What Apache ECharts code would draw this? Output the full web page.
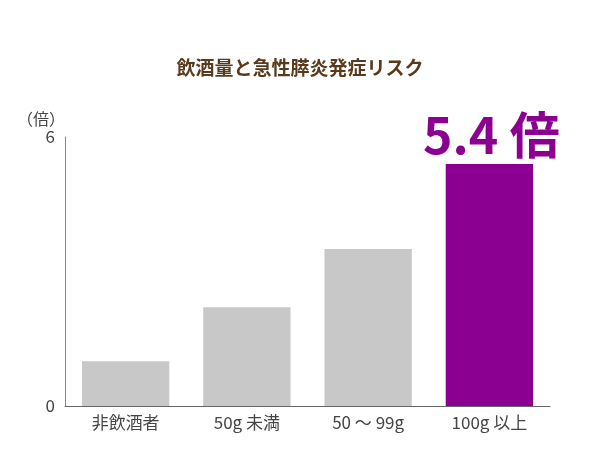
<!DOCTYPE html>
<html><head><meta charset="utf-8">
<script src="https://cdn.jsdelivr.net/npm/echarts@6/dist/echarts.min.js"></script>
<style>body{margin:0}#c{width:600px;height:450px}</style>
</head><body><div id="c"></div>
<script>
const categories = ['非飲酒者', '50g 未満', '50 〜 99g', '100g 以上'];
const riskValues = [1.0, 2.2, 3.5, 5.4];
const yTicks = [0, 6];

const chart = echarts.init(document.getElementById('c'));
chart.setOption({
  textStyle: { fontFamily: 'Noto Sans CJK JP' },
  title: {
    text: '飲酒量と急性膵炎発症リスク', left: 'center', top: 53,
    textStyle: { fontSize: 19, fontWeight: 'bold', color: '#5a3a1c' }
  },
  grid: { left: 65, right: 50, top: 137, bottom: 44 },
  xAxis: {
    type: 'category', data: categories,
    axisLine: { lineStyle: { color: '#666' } },
    axisTick: { show: false },
    axisLabel: { fontSize: 17, color: '#444', margin: 8 }
  },
  yAxis: {
    type: 'value', min: yTicks[0], max: yTicks[1], interval: 6,
    name: '（倍）', nameLocation: 'end', nameGap: 10,
    nameTextStyle: { fontSize: 16, color: '#444', align: 'right' },
    axisLine: { show: true, lineStyle: { color: '#888' } },
    axisTick: { show: false }, splitLine: { show: false },
    axisLabel: { fontSize: 17, color: '#444', margin: 10 }
  },
  series: [{
    type: 'bar', barWidth: '72%',
    data: riskValues.map((v, i) => ({
      value: v,
      itemStyle: { color: i === 3 ? '#8b0091' : '#c8c8c9' },
      label: i === 3 ? {
        show: true, position: 'top', distance: 4, offset: [2, 0],
        formatter: '{c} 倍', fontSize: 50, fontWeight: 'bold', color: '#8b0091'
      } : { show: false }
    }))
  }]
});
</script></body></html>
